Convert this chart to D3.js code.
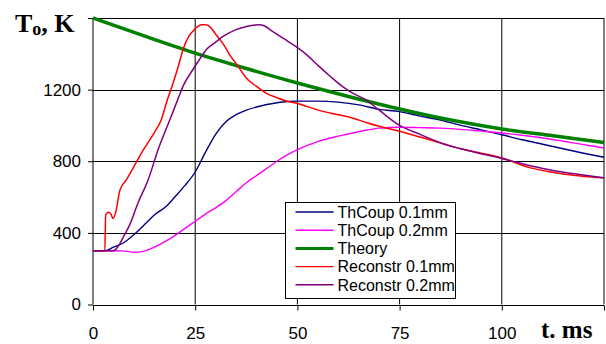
<!DOCTYPE html>
<html>
<head>
<meta charset="utf-8">
<script src="https://cdn.jsdelivr.net/npm/d3@7"></script>
<style>
  body { margin: 0; background: #fff; }
  svg { display: block; }
</style>
</head>
<body>
<script>
// time (ms) / temperature (K) samples
const thCoup01T = [0, 3, 5, 7.5, 10, 13, 15, 18, 20, 22.5, 25, 27.5, 30, 32.5, 35, 37.5, 40, 42.5, 45, 47.5, 50, 55, 60, 65, 70, 75, 80, 85, 90, 95, 100, 105, 110, 115, 120, 125];
const thCoup01V = [300, 300, 320, 345, 390, 455, 500, 550, 600, 665, 740, 850, 950, 1020, 1060, 1085, 1103, 1117, 1127, 1134, 1136, 1136, 1130, 1115, 1090, 1077, 1052, 1030, 1000, 975, 948, 920, 895, 870, 845, 822];

const thCoup02T = [0, 5, 8, 10, 12, 15, 17.5, 20, 22.5, 25, 27.5, 30, 32.5, 35, 37.5, 40, 42.5, 45, 47.5, 50, 55, 60, 65, 70, 75, 80, 85, 90, 95, 100, 105, 110, 115, 120, 125];
const thCoup02V = [300, 300, 298, 292, 295, 320, 350, 385, 425, 465, 505, 540, 580, 630, 680, 720, 760, 800, 835, 865, 910, 940, 965, 985, 990, 988, 985, 978, 968, 958, 945, 930, 912, 893, 874];

const theoryT = [0, 12.5, 25, 37.5, 50, 62.5, 75, 87.5, 100, 112.5, 125];
const theoryV = [1600, 1500, 1404, 1318, 1237, 1162, 1092, 1030, 980, 942, 905];

const recon01T = [0, 2.9, 3.1, 3.8, 4.4, 4.9, 5.5, 6.6, 8.2, 10, 12.5, 15, 16.7, 18, 19.6, 21.2, 22, 23.5, 24.4, 25.5, 26.5, 27.5, 28.5, 30.1, 32, 33.4, 35.5, 37.5, 40, 42.3, 45, 47.5, 49.6, 52.5, 56, 60, 63.4, 67, 70, 75, 80, 86, 90, 95, 100, 107, 112, 118, 125];
const recon01V = [300, 300, 500, 515, 505, 480, 510, 640, 697, 770, 870, 960, 1032, 1130, 1237, 1357, 1423, 1500, 1525, 1550, 1562, 1562, 1553, 1506, 1450, 1395, 1330, 1265, 1218, 1181, 1155, 1135, 1125, 1105, 1080, 1060, 1042, 1015, 995, 967, 935, 895, 870, 845, 818, 763, 740, 720, 707];

const recon02T = [0, 5, 6, 7.5, 9, 11, 13.5, 16, 18.8, 21, 22, 24.4, 26, 27.7, 30, 31.8, 35, 37.5, 40.7, 42, 43.9, 47, 49.6, 52.5, 55.3, 58, 61, 63.5, 66.7, 70, 75, 80, 86, 90, 100, 110, 125];
const recon02V = [300, 300, 320, 380, 446, 567, 697, 870, 1032, 1160, 1218, 1311, 1367, 1423, 1465, 1497, 1535, 1553, 1562, 1555, 1525, 1480, 1441, 1390, 1330, 1275, 1218, 1180, 1144, 1085, 1000, 950, 895, 870, 815, 760, 708];

const seriesNames = ["ThCoup 0.1mm", "ThCoup 0.2mm", "Theory", "Reconstr 0.1mm", "Reconstr 0.2mm"];
const seriesColors = ["#000080", "#ff00ff", "#008000", "#ff0000", "#800080"];
const xTicks = [0, 25, 50, 75, 100, 125];
const xTickLabels = ["0", "25", "50", "75", "100", ""];
const yTicks = [0, 400, 800, 1200, 1600];
const yTickLabels = ["0", "400", "800", "1200", ""];

const width = 606;
const height = 344;
const plot = { left: 93, right: 604, top: 18, bottom: 304.5 };

const svg = d3.select("body").append("svg")
  .attr("width", width)
  .attr("height", height);

const x = d3.scaleLinear().domain([0, 125]).range([plot.left, plot.right]);
const y = d3.scaleLinear().domain([0, 1600]).range([plot.bottom, plot.top]);

// gridlines
svg.append("g")
  .selectAll("line")
  .data(yTicks.slice(1))
  .join("line")
  .attr("x1", plot.left).attr("x2", plot.right)
  .attr("y1", (d) => Math.round(y(d)) + 0.5).attr("y2", (d) => Math.round(y(d)) + 0.5)
  .attr("stroke", "#000");

svg.append("g")
  .selectAll("line")
  .data(xTicks.slice(1))
  .join("line")
  .attr("x1", (d) => x(d)).attr("x2", (d) => x(d))
  .attr("y1", plot.top).attr("y2", plot.bottom)
  .attr("stroke", "#000");

// axes
const xAxis = svg.append("g")
  .attr("transform", `translate(0, ${Math.round(plot.bottom) + 0.5})`)
  .call(d3.axisBottom(x).tickValues(xTicks).tickSize(5).tickPadding(16)
    .tickFormat((d, i) => xTickLabels[i]));

const yAxis = svg.append("g")
  .attr("transform", `translate(${plot.left}, 0)`)
  .call(d3.axisLeft(y).tickValues(yTicks).tickSize(5).tickPadding(7)
    .tickFormat((d, i) => yTickLabels[i]));

[xAxis, yAxis].forEach((g) => {
  g.select(".domain").attr("stroke", "#000").attr("d", null);
  g.selectAll(".tick line").attr("stroke", "#000");
  g.selectAll(".tick text")
    .attr("fill", "#000")
    .attr("font-family", "'Liberation Sans', Arial, sans-serif")
    .attr("font-size", "17px");
});
svg.append("line")
  .attr("x1", plot.left).attr("x2", plot.left)
  .attr("y1", plot.top).attr("y2", plot.bottom)
  .attr("stroke", "#000");
svg.append("line")
  .attr("x1", plot.left).attr("x2", plot.right)
  .attr("y1", Math.round(plot.bottom) + 0.5).attr("y2", Math.round(plot.bottom) + 0.5)
  .attr("stroke", "#000");

// series
const seriesData = [
  [thCoup01T, thCoup01V],
  [thCoup02T, thCoup02V],
  [theoryT, theoryV],
  [recon01T, recon01V],
  [recon02T, recon02V],
];
const seriesWidths = [1.4, 1.4, 3.5, 1.5, 1.5];

const line = d3.line()
  .x((d) => x(d[0]))
  .y((d) => y(d[1]))
  .curve(d3.curveMonotoneX);

svg.append("g")
  .selectAll("path")
  .data(seriesData)
  .join("path")
  .attr("fill", "none")
  .attr("stroke", (_d, i) => seriesColors[i])
  .attr("stroke-width", (_d, i) => seriesWidths[i])
  .attr("stroke-linejoin", "round")
  .attr("d", ([ts, vs]) => line(ts.map((t, i) => [t, vs[i]])));

// axis titles
const title = svg.append("text")
  .attr("x", 15)
  .attr("y", 32)
  .attr("font-family", "'Liberation Serif', 'Times New Roman', serif")
  .attr("font-weight", "bold")
  .attr("font-size", "26px")
  .attr("fill", "#000");
title.append("tspan").text("T");
title.append("tspan").attr("font-size", "18px").attr("dy", 3).text("o");
title.append("tspan").attr("dy", -3).text(", K");

svg.append("text")
  .attr("x", 541)
  .attr("y", 338)
  .attr("font-family", "'Liberation Serif', 'Times New Roman', serif")
  .attr("font-weight", "bold")
  .attr("font-size", "25px")
  .attr("fill", "#000")
  .text("t. ms");

// legend
const legend = svg.append("g").attr("transform", "translate(285.5, 202.5)");
legend.append("rect")
  .attr("width", 170)
  .attr("height", 96)
  .attr("fill", "#fff")
  .attr("stroke", "#000");

const item = legend.selectAll("g")
  .data(seriesNames)
  .join("g")
  .attr("transform", (_d, i) => `translate(0, ${9.5 + i * 18.2})`);

item.append("line")
  .attr("x1", 10).attr("x2", 48)
  .attr("stroke", (_d, i) => seriesColors[i])
  .attr("stroke-width", (_d, i) => (i === 2 ? 3 : 1.4));

item.append("text")
  .attr("x", 52)
  .attr("dy", "0.36em")
  .attr("font-family", "'Liberation Sans', Arial, sans-serif")
  .attr("font-size", "16px")
  .attr("fill", "#000")
  .text((d) => d);
</script>
</body>
</html>
